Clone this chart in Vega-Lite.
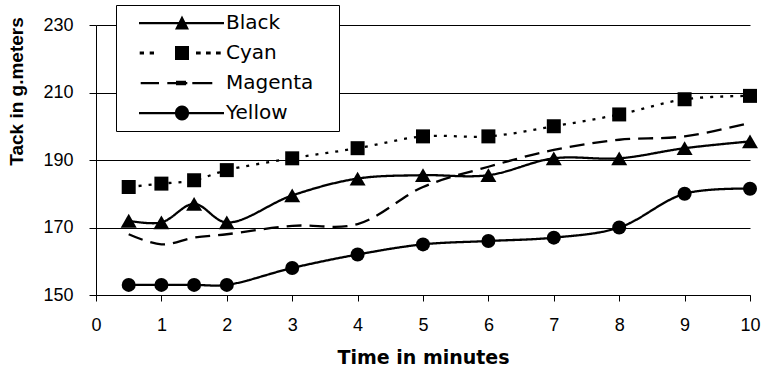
{
  "$schema": "https://vega.github.io/schema/vega-lite/v6.json",
  "width": 654,
  "height": 270,
  "autosize": "none",
  "padding": {"left": 96, "top": 25, "right": 15, "bottom": 85},
  "background": "white",
  "config": {"view": {"stroke": null}},
  "data": {"values": [
    {"series": "Black", "t": 0.5, "v": 172}, {"series": "Black", "t": 1, "v": 171.5}, {"series": "Black", "t": 1.5, "v": 177}, {"series": "Black", "t": 2, "v": 171.5}, {"series": "Black", "t": 3, "v": 179.5}, {"series": "Black", "t": 4, "v": 184.5}, {"series": "Black", "t": 5, "v": 185.5}, {"series": "Black", "t": 6, "v": 185.5}, {"series": "Black", "t": 7, "v": 190.5}, {"series": "Black", "t": 8, "v": 190.5}, {"series": "Black", "t": 9, "v": 193.5}, {"series": "Black", "t": 10, "v": 195.5},
    {"series": "Cyan", "t": 0.5, "v": 182}, {"series": "Cyan", "t": 1, "v": 183}, {"series": "Cyan", "t": 1.5, "v": 184}, {"series": "Cyan", "t": 2, "v": 187}, {"series": "Cyan", "t": 3, "v": 190.5}, {"series": "Cyan", "t": 4, "v": 193.5}, {"series": "Cyan", "t": 5, "v": 197}, {"series": "Cyan", "t": 6, "v": 197}, {"series": "Cyan", "t": 7, "v": 200}, {"series": "Cyan", "t": 8, "v": 203.5}, {"series": "Cyan", "t": 9, "v": 208}, {"series": "Cyan", "t": 10, "v": 209},
    {"series": "Magenta", "t": 0.5, "v": 168}, {"series": "Magenta", "t": 1, "v": 165}, {"series": "Magenta", "t": 1.5, "v": 167}, {"series": "Magenta", "t": 2, "v": 168}, {"series": "Magenta", "t": 3, "v": 170.5}, {"series": "Magenta", "t": 4, "v": 171}, {"series": "Magenta", "t": 5, "v": 182}, {"series": "Magenta", "t": 6, "v": 188}, {"series": "Magenta", "t": 7, "v": 193}, {"series": "Magenta", "t": 8, "v": 196}, {"series": "Magenta", "t": 9, "v": 197}, {"series": "Magenta", "t": 10, "v": 201},
    {"series": "Yellow", "t": 0.5, "v": 153}, {"series": "Yellow", "t": 1, "v": 153}, {"series": "Yellow", "t": 1.5, "v": 153}, {"series": "Yellow", "t": 2, "v": 153}, {"series": "Yellow", "t": 3, "v": 158}, {"series": "Yellow", "t": 4, "v": 162}, {"series": "Yellow", "t": 5, "v": 165}, {"series": "Yellow", "t": 6, "v": 166}, {"series": "Yellow", "t": 7, "v": 167}, {"series": "Yellow", "t": 8, "v": 170}, {"series": "Yellow", "t": 9, "v": 180}, {"series": "Yellow", "t": 10, "v": 181.5}
  ]},
  "layer": [
    {
      "mark": {"type": "line", "interpolate": "catmull-rom", "color": "black", "strokeWidth": 2.3},
      "encoding": {
        "x": {"field": "t", "type": "quantitative", "title": "Time in minutes",
          "scale": {"domain": [0, 10], "nice": false, "zero": false},
          "axis": {"values": [0,1,2,3,4,5,6,7,8,9,10], "format": "d", "grid": false,
            "labelFont": "Liberation Sans", "labelFontSize": 18, "labelColor": "black", "labelPadding": 15,
            "labelFlush": false, "labelOverlap": false,
            "tickSize": 6, "tickColor": "black", "domainColor": "black",
            "titleFont": "DejaVu Sans", "titleFontSize": 19, "titleFontWeight": "bold", "titleColor": "black", "titlePadding": 14}},
        "y": {"field": "v", "type": "quantitative", "title": "Tack in g.meters",
          "scale": {"domain": [150, 230], "nice": false, "zero": false},
          "axis": {"values": [150,170,190,210,230], "grid": true, "gridColor": "black", "gridOpacity": 1, "gridWidth": 1,
            "labelFont": "Liberation Sans", "labelFontSize": 18, "labelColor": "black", "labelPadding": 16,
            "tickSize": 7, "tickColor": "black", "domainColor": "black",
            "titleFont": "Liberation Sans", "titleFontSize": 19, "titleFontWeight": "bold", "titleColor": "black",
            "titleX": -70, "titleY": 66}},
        "strokeDash": {"field": "series", "type": "nominal",
          "scale": {"domain": ["Black", "Cyan", "Magenta", "Yellow"], "range": [[1, 0], [3, 7], [15, 8], [1, 0]]},
          "legend": null}
      }
    },
    {
      "transform": [{"filter": "datum.series === 'Black'"}],
      "mark": {"type": "point", "shape": "triangle-up", "filled": true, "color": "black", "opacity": 1, "size": 256},
      "encoding": {
        "x": {"field": "t", "type": "quantitative"},
        "y": {"field": "v", "type": "quantitative"}
      }
    },
    {
      "transform": [{"filter": "datum.series === 'Cyan'"}],
      "mark": {"type": "point", "shape": "square", "filled": true, "color": "black", "opacity": 1, "size": 196},
      "encoding": {
        "x": {"field": "t", "type": "quantitative"},
        "y": {"field": "v", "type": "quantitative"}
      }
    },
    {
      "transform": [{"filter": "datum.series === 'Yellow'"}],
      "mark": {"type": "point", "shape": "circle", "filled": true, "color": "black", "opacity": 1, "size": 196},
      "encoding": {
        "x": {"field": "t", "type": "quantitative"},
        "y": {"field": "v", "type": "quantitative"}
      }
    },
    {
      "mark": {"type": "point", "filled": true, "color": "black", "opacity": 0, "strokeWidth": 0},
      "encoding": {
        "x": {"field": "t", "type": "quantitative"},
        "y": {"field": "v", "type": "quantitative"},
        "shape": {"field": "series", "type": "nominal",
          "scale": {
            "range": [
              "M0.556,-0.125H10V0.125H0.556ZM5.333,-0.83L6.111,0.73L4.556,0.73ZM21.8,0L21.8,0.001Z",
              "M0.633,-0.17H1.111V0.17H0.633ZM1.744,-0.17H2.222V0.17H1.744ZM6.889,-0.17H7.411V0.17H6.889ZM8,-0.17H8.522V0.17H8ZM9.111,-0.17H9.633V0.17H9.111ZM4.556,-0.78H6.111V0.78H4.556ZM21.8,0L21.8,0.001Z",
              "M0.744,-0.125H2.778V0.125H0.744ZM3.7,-0.125H5.922V0.125H3.7ZM4.667,-0.25H5.778V0.25H4.667ZM6.478,-0.125H8.7V0.125H6.478ZM21.8,0L21.8,0.001Z",
              "M0.556,-0.125H10V0.125H0.556ZM6.111,0A0.78,0.78 0 1,1 4.556,0A0.78,0.78 0 1,1 6.111,0ZM21.8,0L21.8,0.001Z"
            ]},
          "legend": {"title": null, "orient": "none", "legendX": 20, "legendY": -20,
            "padding": 8, "rowPadding": 10, "symbolSize": 324, "symbolStrokeWidth": 0, "labelOffset": 82,
            "labelFont": "DejaVu Sans", "labelFontSize": 20, "labelColor": "black",
            "fillColor": "white", "strokeColor": "black", "symbolOpacity": 1,
            "symbolFillColor": "black",
            "encode": {
              "symbols": {
                "fill": {"value": "black"},
                "fillOpacity": {"value": 1},
                "opacity": {"value": 1}
              },
              "legend": {"strokeWidth": {"value": 1.5}}
            }}
        }
      }
    }
  ]
}
